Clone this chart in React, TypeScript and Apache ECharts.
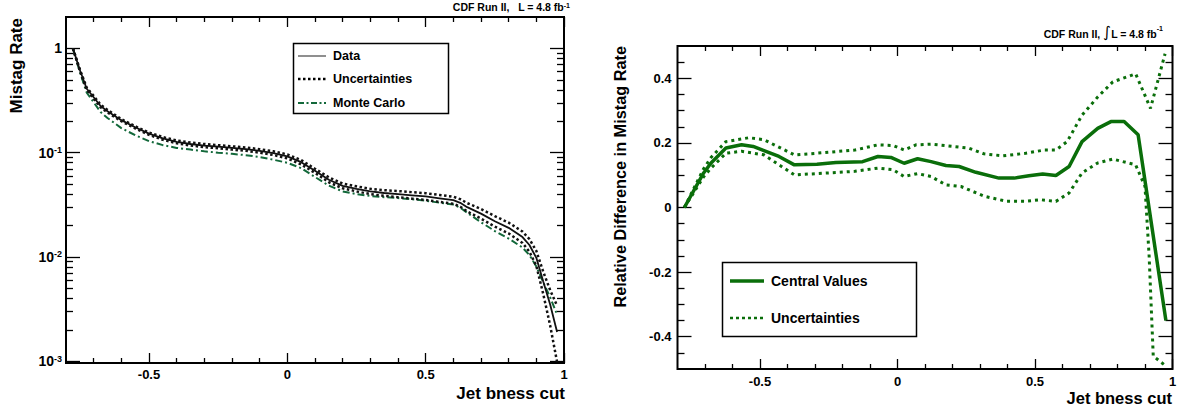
import React, { useEffect, useRef } from "react";
import * as echarts from "echarts";

const FONT = '"Liberation Sans", Arial, Helvetica, sans-serif';

// ---------- Left panel: mistag rate vs jet bness cut ----------
const LEFT_X = [
  -0.775, -0.75, -0.725, -0.7, -0.675, -0.65, -0.6, -0.55, -0.5, -0.45, -0.4, -0.35, -0.3, -0.25,
  -0.2, -0.15, -0.1, -0.05, 0, 0.05, 0.1, 0.15, 0.2, 0.25, 0.3, 0.35, 0.4, 0.45, 0.5, 0.55, 0.6,
  0.625, 0.65, 0.7, 0.75, 0.8, 0.85, 0.875, 0.9, 0.925, 0.95, 0.975,
];
const DATA_RATE = [
  1.0, 0.62, 0.41, 0.34, 0.28, 0.25, 0.205, 0.175, 0.152, 0.137, 0.127, 0.121, 0.117, 0.114,
  0.111, 0.108, 0.104, 0.099, 0.092, 0.081, 0.067, 0.055, 0.048, 0.045, 0.0425, 0.041, 0.04, 0.039,
  0.038, 0.0365, 0.035, 0.033, 0.03, 0.026, 0.022, 0.019, 0.0155, 0.013, 0.0098, 0.0058, 0.0035,
  0.0019,
];
const DATA_UP = [
  1.0, 0.63, 0.42, 0.35, 0.288, 0.257, 0.21, 0.179, 0.156, 0.141, 0.131, 0.125, 0.121, 0.118,
  0.115, 0.112, 0.108, 0.103, 0.096, 0.085, 0.07, 0.058, 0.0505, 0.0475, 0.045, 0.0437, 0.0428,
  0.0418, 0.0408, 0.0393, 0.0378, 0.0358, 0.0328, 0.0288, 0.0246, 0.0213, 0.0175, 0.0148, 0.0114,
  0.0072, 0.0048, 0.0034,
];
const DATA_DOWN = [
  1.0, 0.61, 0.4, 0.33, 0.272, 0.243, 0.2, 0.171, 0.148, 0.133, 0.123, 0.117, 0.113, 0.11,
  0.107, 0.104, 0.1, 0.095, 0.088, 0.077, 0.064, 0.052, 0.0455, 0.0425, 0.04, 0.0385, 0.0373,
  0.0362, 0.0352, 0.0337, 0.0323, 0.0303, 0.0273, 0.0233, 0.0195, 0.0168, 0.0136, 0.0112, 0.0082,
  0.0044, 0.0022, 0.00098,
];
const MC_RATE = [
  1.0, 0.595, 0.376, 0.304, 0.245, 0.215, 0.172, 0.147, 0.129, 0.118, 0.111, 0.107, 0.103, 0.1,
  0.0974, 0.0946, 0.0908, 0.0855, 0.08, 0.071, 0.0584, 0.0483, 0.0425, 0.04, 0.0384, 0.0374,
  0.0367, 0.0357, 0.0346, 0.0331, 0.0318, 0.0297, 0.0265, 0.0215, 0.0177, 0.015, 0.0123, 0.0104,
  0.0081, 0.0057, 0.0041, 0.0028,
];

// ---------- Right panel: relative difference ----------
const CENTRAL_X = [
  -0.775, -0.705, -0.678, -0.624, -0.567, -0.525, -0.431, -0.375, -0.293, -0.224, -0.127, -0.071,
  -0.024, 0.024, 0.073, 0.122, 0.176, 0.224, 0.285, 0.369, 0.424, 0.478, 0.528, 0.576, 0.624,
  0.671, 0.728, 0.776, 0.824, 0.875, 0.976,
];
const CENTRAL_Y = [
  0, 0.107, 0.138, 0.184, 0.194, 0.189, 0.158, 0.132, 0.134, 0.139, 0.142, 0.158, 0.155, 0.137,
  0.151, 0.142, 0.13, 0.127, 0.109, 0.091, 0.091, 0.098, 0.104, 0.099, 0.127, 0.204, 0.245, 0.266,
  0.266, 0.225, -0.35,
];
const UPPER_X = [
  -0.775, -0.705, -0.678, -0.624, -0.54, -0.486, -0.375, -0.293, -0.155, -0.071, -0.016, 0.024,
  0.067, 0.122, 0.204, 0.259, 0.315, 0.384, 0.466, 0.535, 0.576, 0.617, 0.671, 0.728, 0.783, 0.866,
  0.92, 0.973,
];
const UPPER_Y = [
  0, 0.12, 0.155, 0.204, 0.216, 0.21, 0.163, 0.168, 0.178, 0.194, 0.192, 0.178, 0.194, 0.196,
  0.189, 0.184, 0.166, 0.16, 0.168, 0.178, 0.178, 0.204, 0.286, 0.342, 0.389, 0.414, 0.307, 0.476,
];
const LOWER_X = [
  -0.775, -0.705, -0.678, -0.624, -0.567, -0.486, -0.375, -0.293, -0.155, -0.071, -0.016, 0.024,
  0.073, 0.122, 0.176, 0.231, 0.315, 0.397, 0.466, 0.521, 0.576, 0.624, 0.671, 0.728, 0.783, 0.866,
  0.9, 0.915, 0.93, 0.975,
];
const LOWER_Y = [
  0, 0.095, 0.122, 0.168, 0.174, 0.163, 0.101, 0.105, 0.112, 0.122, 0.117, 0.096, 0.105, 0.096,
  0.07, 0.065, 0.035, 0.019, 0.019, 0.024, 0.019, 0.045, 0.107, 0.138, 0.15, 0.132, 0.065, -0.15,
  -0.46, -0.49,
];

// ---------- Ticks ----------
const X_MAJOR = [-0.5, 0, 0.5, 1];
const X_MINOR = [-0.7, -0.6, -0.4, -0.3, -0.2, -0.1, 0.1, 0.2, 0.3, 0.4, 0.6, 0.7, 0.8, 0.9];
const LOG_MAJOR = [0.001, 0.01, 0.1, 1];
const LOG_MINOR = [
  0.002, 0.003, 0.004, 0.005, 0.006, 0.007, 0.008, 0.009, 0.02, 0.03, 0.04, 0.05, 0.06, 0.07, 0.08,
  0.09, 0.2, 0.3, 0.4, 0.5, 0.6, 0.7, 0.8, 0.9,
];
const REL_MAJOR = [-0.4, -0.2, 0, 0.2, 0.4];
const REL_MINOR = [
  -0.45, -0.35, -0.3, -0.25, -0.15, -0.1, -0.05, 0.05, 0.1, 0.15, 0.25, 0.3, 0.35, 0.45,
];

const zip = (xs: number[], ys: number[]) => xs.map((x, i) => [x, ys[i]]);

const GREEN_MC = "#12683a";
const GREEN = "#0a6e0a";

function tickAxis(
  gridIndex: number,
  position: string,
  type: string,
  min: number,
  max: number,
  values: number[],
  length: number
): any {
  return {
    gridIndex,
    position,
    type,
    min,
    max,
    ...(type === "log" ? { logBase: 10 } : {}),
    axisLine: { show: false, onZero: false },
    splitLine: { show: false },
    axisTick: {
      show: true,
      inside: true,
      length,
      customValues: values,
      lineStyle: { color: "#000", width: 1.3 },
    },
    axisLabel: { show: false, customValues: values },
  };
}

const labelStyle = {
  fontFamily: FONT,
  fontWeight: "bold",
  fontSize: 13,
  color: "#000",
};

function buildOption(): any {
  const xAxes: any[] = [];
  const yAxes: any[] = [];

  // left grid x axes
  xAxes.push({
    ...tickAxis(0, "bottom", "value", -0.8, 1, X_MAJOR, 10),
    axisLabel: {
      show: true,
      customValues: X_MAJOR,
      margin: 5,
      ...labelStyle,
      formatter: (v: number) => String(v),
    },
  });
  xAxes.push(tickAxis(0, "bottom", "value", -0.8, 1, X_MINOR, 5));
  xAxes.push(tickAxis(0, "top", "value", -0.8, 1, X_MAJOR, 10));
  xAxes.push(tickAxis(0, "top", "value", -0.8, 1, X_MINOR, 5));
  // right grid x axes
  xAxes.push({
    ...tickAxis(1, "bottom", "value", -0.8, 1, X_MAJOR, 10),
    axisLabel: {
      show: true,
      customValues: X_MAJOR,
      margin: 6,
      ...labelStyle,
      formatter: (v: number) => String(v),
    },
  });
  xAxes.push(tickAxis(1, "bottom", "value", -0.8, 1, X_MINOR, 5));
  xAxes.push(tickAxis(1, "top", "value", -0.8, 1, X_MAJOR, 10));
  xAxes.push(tickAxis(1, "top", "value", -0.8, 1, X_MINOR, 5));

  // left grid y axes (log)
  const LMIN = 0.00096;
  const LMAX = 2;
  yAxes.push({
    ...tickAxis(0, "left", "log", LMIN, LMAX, LOG_MAJOR, 14),
    axisLabel: {
      show: true,
      customValues: LOG_MAJOR,
      margin: 4,
      formatter: (v: number) => {
        const e = Math.round(Math.log10(v));
        if (e === 0) return "{n|1}";
        return "{n|10}{s|" + e + "}";
      },
      rich: {
        n: { fontFamily: FONT, fontWeight: "bold", fontSize: 14, color: "#000", verticalAlign: "bottom" },
        s: { fontFamily: FONT, fontWeight: "bold", fontSize: 9, color: "#000", verticalAlign: "top" },
      },
    },
  });
  yAxes.push(tickAxis(0, "left", "log", LMIN, LMAX, LOG_MINOR, 7));
  yAxes.push(tickAxis(0, "right", "log", LMIN, LMAX, LOG_MAJOR, 14));
  yAxes.push(tickAxis(0, "right", "log", LMIN, LMAX, LOG_MINOR, 7));

  // right grid y axes
  yAxes.push({
    ...tickAxis(1, "left", "value", -0.5, 0.5, REL_MAJOR, 14),
    axisLabel: {
      show: true,
      customValues: REL_MAJOR,
      margin: 6,
      ...labelStyle,
      formatter: (v: number) => String(Math.round(v * 10) / 10),
    },
  });
  yAxes.push(tickAxis(1, "left", "value", -0.5, 0.5, REL_MINOR, 7));
  yAxes.push(tickAxis(1, "right", "value", -0.5, 0.5, REL_MAJOR, 14));
  yAxes.push(tickAxis(1, "right", "value", -0.5, 0.5, REL_MINOR, 7));

  const lineBase = {
    type: "line",
    showSymbol: false,
    symbol: "none",
    smooth: false,
    silent: true,
  };

  const series: any[] = [
    {
      ...lineBase,
      name: "Monte Carlo",
      xAxisIndex: 0,
      yAxisIndex: 0,
      data: zip(LEFT_X, MC_RATE),
      lineStyle: { color: GREEN_MC, width: 2, type: [7, 3, 2, 3] },
    },
    {
      ...lineBase,
      name: "Data",
      xAxisIndex: 0,
      yAxisIndex: 0,
      data: zip(LEFT_X, DATA_RATE),
      lineStyle: { color: "#111", width: 1.8, type: "solid" },
    },
    {
      ...lineBase,
      name: "Uncertainties up",
      xAxisIndex: 0,
      yAxisIndex: 0,
      data: zip(LEFT_X, DATA_UP),
      lineStyle: { color: "#111", width: 2.5, type: [2.5, 2.5] },
    },
    {
      ...lineBase,
      name: "Uncertainties down",
      xAxisIndex: 0,
      yAxisIndex: 0,
      data: zip(LEFT_X, DATA_DOWN),
      lineStyle: { color: "#111", width: 2.5, type: [2.5, 2.5] },
    },
    {
      ...lineBase,
      name: "Upper uncertainty",
      xAxisIndex: 4,
      yAxisIndex: 4,
      data: zip(UPPER_X, UPPER_Y),
      lineStyle: { color: GREEN, width: 3, type: [3, 4] },
    },
    {
      ...lineBase,
      name: "Lower uncertainty",
      xAxisIndex: 4,
      yAxisIndex: 4,
      data: zip(LOWER_X, LOWER_Y),
      lineStyle: { color: GREEN, width: 3, type: [3, 4] },
    },
    {
      ...lineBase,
      name: "Central Values",
      xAxisIndex: 4,
      yAxisIndex: 4,
      data: zip(CENTRAL_X, CENTRAL_Y),
      lineStyle: { color: GREEN, width: 3.5, type: "solid" },
    },
  ];

  const txt = (
    x: number,
    y: number,
    text: string,
    size: number,
    align: string,
    extra: any = {}
  ): any => ({
    type: "text",
    x,
    y,
    silent: true,
    style: {
      text,
      fontFamily: FONT,
      fontWeight: "bold",
      fontSize: size,
      fill: "#000",
      align,
      verticalAlign: "middle",
      ...extra,
    },
  });

  const headRich = {
    b: { fontFamily: FONT, fontWeight: "bold", fontSize: 10.5, fill: "#000", verticalAlign: "bottom" },
    s: { fontFamily: FONT, fontWeight: "bold", fontSize: 7, fill: "#000", verticalAlign: "top" },
    i: { fontFamily: "DejaVu Sans", fontWeight: "normal", fontSize: 15, fill: "#000", verticalAlign: "middle" },
  };

  const graphic: any[] = [
    // headers
    {
      type: "text",
      x: 570,
      y: 7,
      silent: true,
      style: {
        text: "{b|CDF Run II,   L = 4.8 fb}{s|-1}",
        rich: headRich,
        align: "right",
        verticalAlign: "middle",
      },
    },
    {
      type: "text",
      x: 1163,
      y: 32,
      silent: true,
      style: {
        text: "{b|CDF Run II, }{i|∫}{b|L = 4.8 fb}{s|-1}",
        rich: headRich,
        align: "right",
        verticalAlign: "middle",
      },
    },
    // axis titles
    txt(565, 393, "Jet bness cut", 17, "right"),
    txt(1172, 398, "Jet bness cut", 16.5, "right"),
    { ...txt(16, 18, "Mistag Rate", 17, "right"), rotation: Math.PI / 2 },
    { ...txt(620, 46, "Relative Difference in Mistag Rate", 16.3, "right"), rotation: Math.PI / 2 },
    // left legend
    {
      type: "rect",
      silent: true,
      shape: { x: 293.5, y: 43.5, width: 155, height: 70 },
      style: { fill: "#fff", stroke: "#000", lineWidth: 1.5 },
    },
    {
      type: "line",
      silent: true,
      shape: { x1: 298, y1: 56, x2: 326, y2: 56 },
      style: { stroke: "#444", lineWidth: 1.2 },
    },
    {
      type: "line",
      silent: true,
      shape: { x1: 298, y1: 79, x2: 326, y2: 79 },
      style: { stroke: "#000", lineWidth: 2.5, lineDash: [2.5, 2.5] },
    },
    {
      type: "line",
      silent: true,
      shape: { x1: 298, y1: 103, x2: 326, y2: 103 },
      style: { stroke: GREEN_MC, lineWidth: 2, lineDash: [6, 2.5, 2, 2.5] },
    },
    txt(333, 56, "Data", 12.5, "left"),
    txt(333, 79, "Uncertainties", 12.5, "left"),
    txt(333, 103, "Monte Carlo", 12.5, "left"),
    // right legend
    {
      type: "rect",
      silent: true,
      shape: { x: 722.5, y: 262.5, width: 194, height: 74 },
      style: { fill: "#fff", stroke: "#000", lineWidth: 1.5 },
    },
    {
      type: "line",
      silent: true,
      shape: { x1: 730, y1: 281, x2: 764, y2: 281 },
      style: { stroke: GREEN, lineWidth: 3.5 },
    },
    {
      type: "line",
      silent: true,
      shape: { x1: 730, y1: 318, x2: 764, y2: 318 },
      style: { stroke: GREEN, lineWidth: 2.5, lineDash: [3, 3] },
    },
    txt(771, 281, "Central Values", 14, "left"),
    txt(771, 318, "Uncertainties", 14, "left"),
  ];

  return {
    animation: false,
    backgroundColor: "#fff",
    textStyle: { fontFamily: FONT },
    grid: [
      {
        left: 66,
        top: 17,
        width: 498,
        height: 346,
        show: true,
        borderColor: "#000",
        borderWidth: 2,
        backgroundColor: "transparent",
        containLabel: false,
      },
      {
        left: 677.5,
        top: 46,
        width: 495,
        height: 323,
        show: true,
        borderColor: "#000",
        borderWidth: 2,
        backgroundColor: "transparent",
        containLabel: false,
      },
    ],
    xAxis: xAxes,
    yAxis: yAxes,
    series,
    graphic,
  };
}

export default function App() {
  const ref = useRef<HTMLDivElement>(null);
  useEffect(() => {
    document.body.style.margin = "0";
    if (!ref.current) return;
    const chart = echarts.init(ref.current, undefined, { renderer: "svg" });
    chart.setOption(buildOption());
    return () => {
      chart.dispose();
    };
  }, []);
  return <div ref={ref} style={{ width: 1184, height: 412 }} />;
}
